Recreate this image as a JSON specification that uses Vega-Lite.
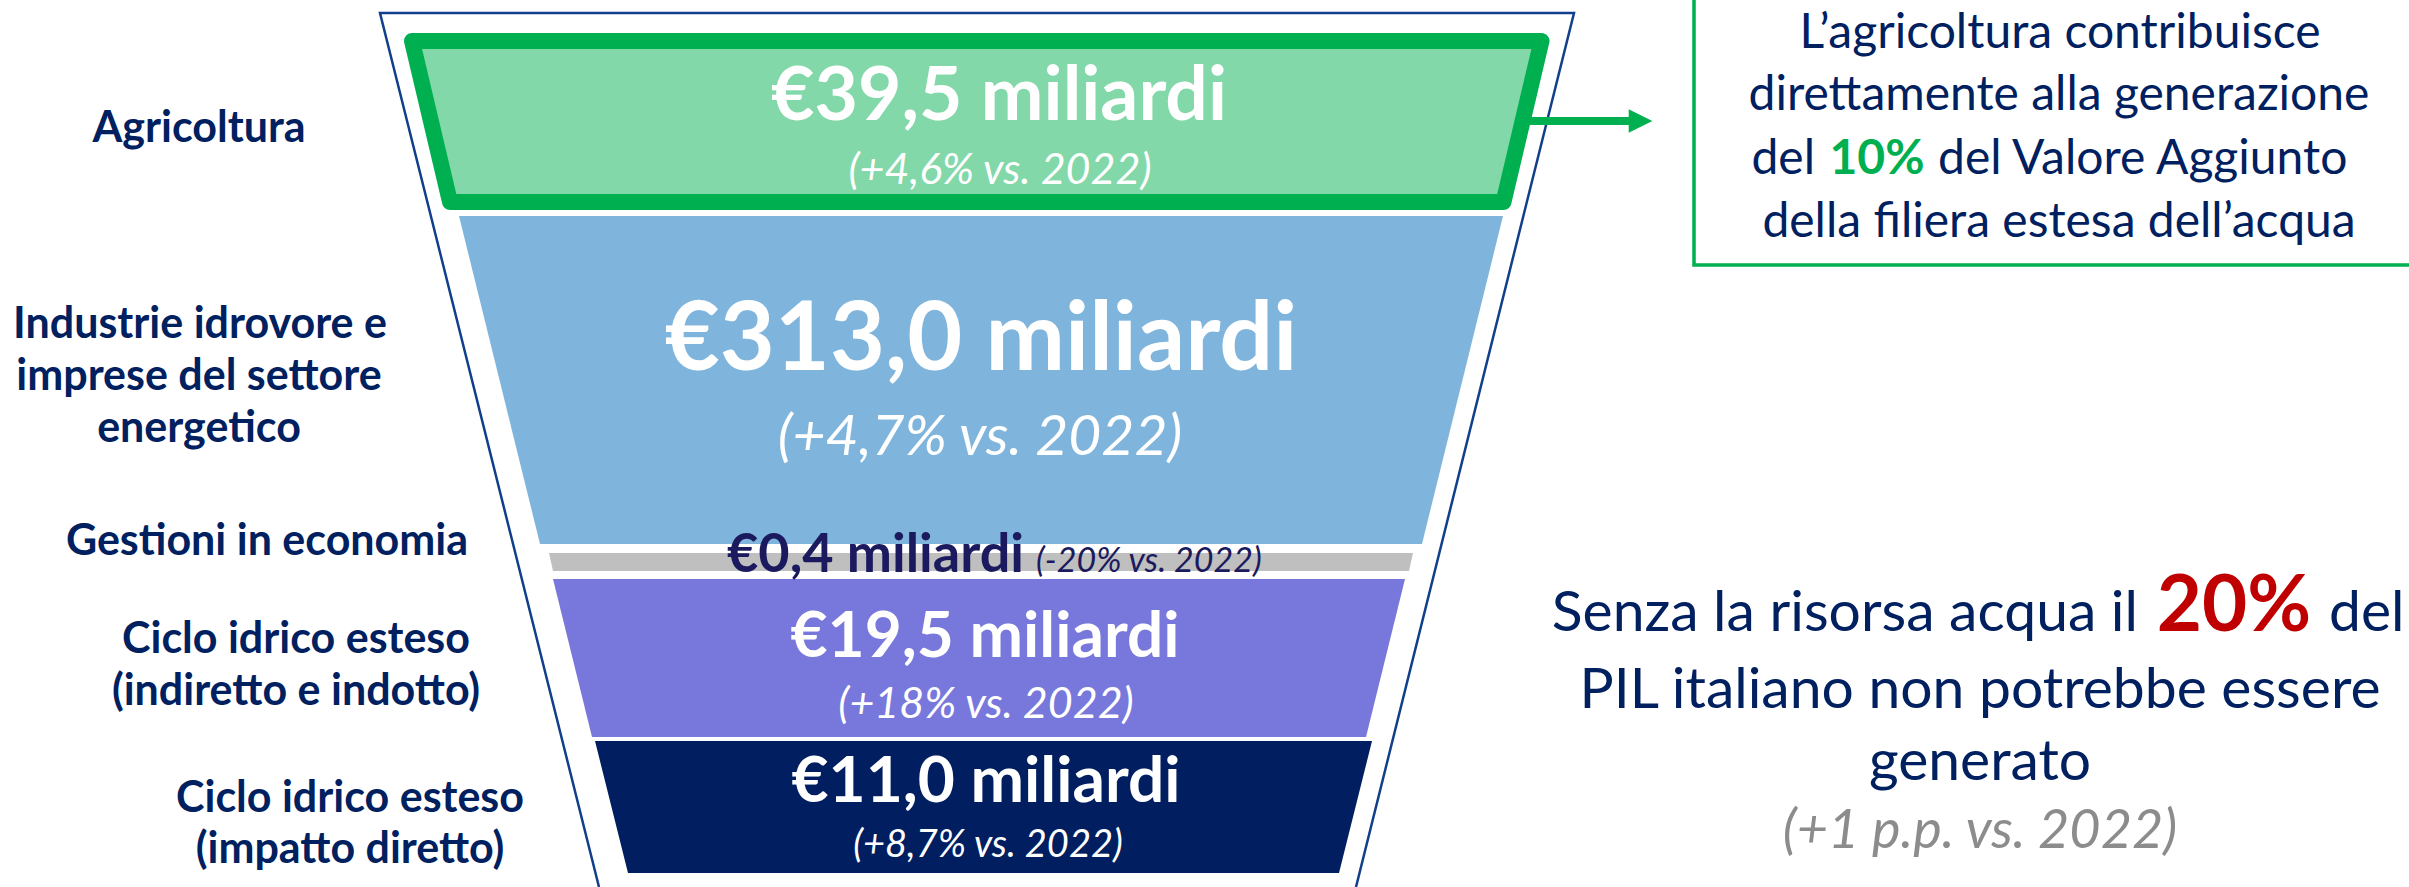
{
  "$schema": "https://vega.github.io/schema/vega-lite/v6.json",
  "width": 2409,
  "height": 887,
  "padding": 0,
  "autosize": {"type": "none"},
  "background": "white",
  "config": {"view": {"stroke": null}, "font": "Lato"},
  "encoding": {
    "x": {"field": "x", "type": "quantitative", "scale": {"domain": [0, 2409], "nice": false, "zero": false}, "axis": null},
    "y": {"field": "y", "type": "quantitative", "scale": {"domain": [0, 887], "nice": false, "zero": false, "reverse": true}, "axis": null}
  },
  "layer": [
    {
      "data": {"values": [
        {"ord": 1, "x": 599, "y": 887},
        {"ord": 2, "x": 380, "y": 13},
        {"ord": 3, "x": 1574, "y": 13},
        {"ord": 4, "x": 1356, "y": 887}
      ]},
      "mark": {"type": "line", "color": "#123f8c", "strokeWidth": 2.5, "strokeJoin": "miter"},
      "encoding": {"order": {"field": "ord", "type": "quantitative"}}
    },
    {
      "data": {"values": [
        {"band": "Industrie", "y": 216, "x": 459, "x2": 1503},
        {"band": "Industrie", "y": 544, "x": 540, "x2": 1422},
        {"band": "Gestioni", "y": 553, "x": 549, "x2": 1413},
        {"band": "Gestioni", "y": 571, "x": 553, "x2": 1409},
        {"band": "Indiretto", "y": 579, "x": 553, "x2": 1405},
        {"band": "Indiretto", "y": 737, "x": 592, "x2": 1366},
        {"band": "Diretto", "y": 741, "x": 595, "x2": 1372},
        {"band": "Diretto", "y": 873, "x": 628, "x2": 1339}
      ]},
      "mark": {"type": "area", "orient": "horizontal"},
      "encoding": {
        "x2": {"field": "x2"},
        "color": {"field": "band", "type": "nominal", "legend": null,
          "scale": {"domain": ["Industrie", "Gestioni", "Indiretto", "Diretto"], "range": ["#7fb5dd", "#bfbfbf", "#7878dc", "#001e60"]}}
      }
    },
    {
      "data": {"values": [
        {"band": "Agricoltura", "y": 41, "x": 412, "x2": 1541.5},
        {"band": "Agricoltura", "y": 202, "x": 450, "x2": 1503.5}
      ]},
      "mark": {"type": "area", "orient": "horizontal", "fill": "#82d8a8", "stroke": "#00b050", "strokeWidth": 16, "strokeJoin": "round"},
      "encoding": {"x2": {"field": "x2"}}
    },
    {
      "data": {"values": [{"x": 1528, "x2": 1633, "y": 121}]},
      "mark": {"type": "rule", "color": "#00b050", "strokeWidth": 8, "strokeCap": "butt"},
      "encoding": {"x2": {"field": "x2"}}
    },
    {
      "data": {"values": [{"x": 1640.5, "y": 121}]},
      "mark": {"type": "point", "shape": "M-1,-1L1,0L-1,1Z", "filled": true, "color": "#00b050", "opacity": 1, "size": 560, "strokeWidth": 0}
    },
    {
      "data": {"values": [{"x": 1694, "x2": 2500, "y": -30, "y2": 265}]},
      "mark": {"type": "rect", "fill": null, "fillOpacity": 0, "stroke": "#00b050", "strokeWidth": 3.5},
      "encoding": {"x2": {"field": "x2"}, "y2": {"field": "y2"}}
    },
    {
      "data": {"values": [
        {"t": "Agricoltura", "x": 199, "y": 142},
        {"t": "Industrie idrovore e", "x": 200, "y": 338},
        {"t": "imprese del settore", "x": 199, "y": 390},
        {"t": "energetico", "x": 199, "y": 442},
        {"t": "Gestioni in economia", "x": 267, "y": 555},
        {"t": "Ciclo idrico esteso", "x": 296, "y": 653},
        {"t": "(indiretto e indotto)", "x": 296, "y": 705},
        {"t": "Ciclo idrico esteso", "x": 350, "y": 812},
        {"t": "(impatto diretto)", "x": 350, "y": 863}
      ]},
      "mark": {"type": "text", "align": "center", "baseline": "alphabetic", "fontSize": 43, "fontWeight": "bold", "color": "#002060"},
      "encoding": {"text": {"field": "t"}}
    },
    {
      "data": {"values": [{"t": "€39,5 miliardi", "x": 999, "y": 120}]},
      "mark": {"type": "text", "align": "center", "baseline": "alphabetic", "fontSize": 75, "fontWeight": "bold", "color": "#ffffff"},
      "encoding": {"text": {"field": "t"}}
    },
    {
      "data": {"values": [{"t": "€313,0 miliardi", "x": 981, "y": 370}]},
      "mark": {"type": "text", "align": "center", "baseline": "alphabetic", "fontSize": 95, "fontWeight": "bold", "color": "#ffffff"},
      "encoding": {"text": {"field": "t"}}
    },
    {
      "data": {"values": [{"t": "€19,5 miliardi", "x": 985, "y": 657}, {"t": "€11,0 miliardi", "x": 986, "y": 802}]},
      "mark": {"type": "text", "align": "center", "baseline": "alphabetic", "fontSize": 64, "fontWeight": "bold", "color": "#ffffff"},
      "encoding": {"text": {"field": "t"}}
    },
    {
      "data": {"values": [{"t": "(+4,6% vs. 2022)", "x": 1000, "y": 184}, {"t": "(+18% vs. 2022)", "x": 986, "y": 718}]},
      "mark": {"type": "text", "align": "center", "baseline": "alphabetic", "fontSize": 43, "fontStyle": "italic", "color": "#ffffff"},
      "encoding": {"text": {"field": "t"}}
    },
    {
      "data": {"values": [{"t": "(+4,7% vs. 2022)", "x": 980, "y": 455}]},
      "mark": {"type": "text", "align": "center", "baseline": "alphabetic", "fontSize": 57, "fontStyle": "italic", "color": "#ffffff"},
      "encoding": {"text": {"field": "t"}}
    },
    {
      "data": {"values": [{"t": "(+8,7% vs. 2022)", "x": 988, "y": 857}]},
      "mark": {"type": "text", "align": "center", "baseline": "alphabetic", "fontSize": 38, "fontStyle": "italic", "color": "#ffffff"},
      "encoding": {"text": {"field": "t"}}
    },
    {
      "data": {"values": [{"t": "€0,4 miliardi", "x": 1024, "y": 572}]},
      "mark": {"type": "text", "align": "right", "baseline": "alphabetic", "fontSize": 54, "fontWeight": "bold", "color": "#1c1a5e"},
      "encoding": {"text": {"field": "t"}}
    },
    {
      "data": {"values": [{"t": "(-20% vs. 2022)", "x": 1036, "y": 572}]},
      "mark": {"type": "text", "align": "left", "baseline": "alphabetic", "fontSize": 34, "fontStyle": "italic", "color": "#1c1a5e"},
      "encoding": {"text": {"field": "t"}}
    },
    {
      "data": {"values": [
        {"t": "L’agricoltura contribuisce", "x": 2060, "y": 48},
        {"t": "direttamente alla generazione", "x": 2059, "y": 110},
        {"t": "della filiera estesa dell’acqua", "x": 2059, "y": 237}
      ]},
      "mark": {"type": "text", "align": "center", "baseline": "alphabetic", "fontSize": 48, "color": "#002060"},
      "encoding": {"text": {"field": "t"}}
    },
    {
      "data": {"values": [{"t": "del", "x": 1815, "y": 174}]},
      "mark": {"type": "text", "align": "right", "baseline": "alphabetic", "fontSize": 48, "color": "#002060"},
      "encoding": {"text": {"field": "t"}}
    },
    {
      "data": {"values": [{"t": "10%", "x": 1877, "y": 174}]},
      "mark": {"type": "text", "align": "center", "baseline": "alphabetic", "fontSize": 48, "fontWeight": "bold", "color": "#00b050"},
      "encoding": {"text": {"field": "t"}}
    },
    {
      "data": {"values": [{"t": "del Valore Aggiunto", "x": 1938, "y": 174}]},
      "mark": {"type": "text", "align": "left", "baseline": "alphabetic", "fontSize": 48, "color": "#002060"},
      "encoding": {"text": {"field": "t"}}
    },
    {
      "data": {"values": [{"t": "Senza la risorsa acqua il", "x": 2138, "y": 631}]},
      "mark": {"type": "text", "align": "right", "baseline": "alphabetic", "fontSize": 57, "color": "#002060"},
      "encoding": {"text": {"field": "t"}}
    },
    {
      "data": {"values": [{"t": "20%", "x": 2234, "y": 631}]},
      "mark": {"type": "text", "align": "center", "baseline": "alphabetic", "fontSize": 78, "fontWeight": "bold", "color": "#c00000"},
      "encoding": {"text": {"field": "t"}}
    },
    {
      "data": {"values": [{"t": "del", "x": 2329, "y": 631}]},
      "mark": {"type": "text", "align": "left", "baseline": "alphabetic", "fontSize": 57, "color": "#002060"},
      "encoding": {"text": {"field": "t"}}
    },
    {
      "data": {"values": [
        {"t": "PIL italiano non potrebbe essere", "x": 1980, "y": 708},
        {"t": "generato", "x": 1980, "y": 780}
      ]},
      "mark": {"type": "text", "align": "center", "baseline": "alphabetic", "fontSize": 57, "color": "#002060"},
      "encoding": {"text": {"field": "t"}}
    },
    {
      "data": {"values": [{"t": "(+1 p.p. vs. 2022)", "x": 1980, "y": 848}]},
      "mark": {"type": "text", "align": "center", "baseline": "alphabetic", "fontSize": 54, "fontStyle": "italic", "color": "#8c8c8c"},
      "encoding": {"text": {"field": "t"}}
    }
  ]
}
